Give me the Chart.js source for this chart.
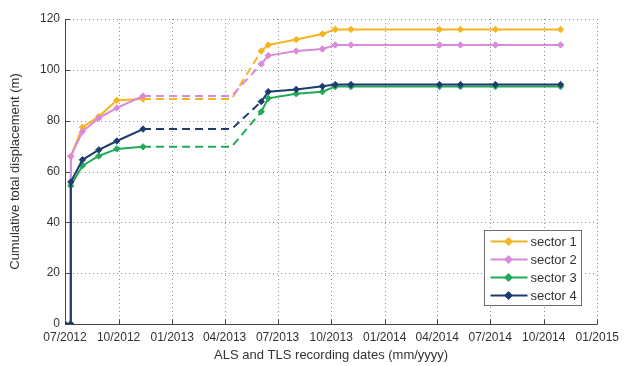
<!DOCTYPE html>
<html>
<head>
<meta charset="utf-8">
<script src="https://cdn.jsdelivr.net/npm/chart.js@4.4.1/dist/chart.umd.min.js"></script>
<style>
  html, body { margin: 0; padding: 0; background: #ffffff; }
  canvas { display: block; }
</style>
</head>
<body>
<canvas id="chart" width="625" height="366"></canvas>
<script>
// Survey dates (ALS / TLS campaigns); the 2013-04-13 entry only closes the
// gap between the autumn 2012 and summer 2013 surveys and carries no marker.
const recordingDates = [
  '2012-07-01', '2012-07-11', '2012-07-11', '2012-07-31', '2012-08-28',
  '2012-09-28', '2012-11-12', '2013-04-13', '2013-06-03', '2013-06-15',
  '2013-08-02', '2013-09-16', '2013-10-08', '2013-11-04', '2014-04-05',
  '2014-05-11', '2014-07-10', '2014-10-30'
];
const gapIndex = 7;

// Cumulative total displacement (m) per sector
const sector1 = [0, 0, 66.0, 77.4, 81.6, 88.0, 88.5, 88.5, 107.4, 109.8, 111.9, 114.1, 115.9, 115.9, 115.9, 115.9, 115.9, 115.9];
const sector2 = [0, 0, 66.0, 75.7, 81.0, 85.0, 89.7, 89.7, 102.3, 105.6, 107.4, 108.2, 109.8, 109.8, 109.8, 109.8, 109.8, 109.8];
const sector3 = [0, 0, 54.4, 62.3, 66.1, 68.9, 69.7, 69.7, 83.5, 88.8, 90.6, 91.4, 93.4, 93.4, 93.4, 93.4, 93.4, 93.4];
const sector4 = [0, 0, 55.9, 64.6, 68.5, 72.0, 76.7, 76.7, 87.5, 91.4, 92.3, 93.5, 94.2, 94.2, 94.2, 94.2, 94.2, 94.2];

const seriesNames = ['sector 1', 'sector 2', 'sector 3', 'sector 4'];
const seriesColors = ['#F7B422', '#DA8ADB', '#22A95A', '#1F3B70'];

const tickDates = [
  '2012-07-01', '2012-10-01', '2013-01-01', '2013-04-01', '2013-07-01', '2013-10-01',
  '2014-01-01', '2014-04-01', '2014-07-01', '2014-10-01', '2015-01-01'
];
const tickLabels = [
  '07/2012', '10/2012', '01/2013', '04/2013', '07/2013', '10/2013',
  '01/2014', '04/2014', '07/2014', '10/2014', '01/2015'
];

const originDate = '2012-07-01';
function toDays(s) {
  const [y, m, d] = s.split('-').map(Number);
  const [y0, m0, d0] = originDate.split('-').map(Number);
  return (Date.UTC(y, m - 1, d) - Date.UTC(y0, m0 - 1, d0)) / 86400000;
}

const xDays = recordingDates.map(toDays);
const tickDays = tickDates.map(toDays);

const TEXT = '#333333';
const FONT = '"Liberation Sans", Arial, sans-serif';

function makeDataset(name, values, color, order) {
  return {
    label: name,
    data: values.map((v, i) => ({ x: xDays[i], y: v })),
    borderColor: color,
    backgroundColor: color,
    borderWidth: 2,
    pointStyle: 'rectRot',
    pointRadius: values.map((v, i) => (i === gapIndex ? 0 : 3.2)),
    pointHoverRadius: 0,
    pointBorderWidth: 1,
    pointBorderColor: color,
    pointBackgroundColor: color,
    tension: 0,
    order: order,
    segment: {
      borderDash: ctx => (ctx.p0DataIndex === gapIndex - 1 || ctx.p0DataIndex === gapIndex) ? [8, 5] : []
    }
  };
}

// Dotted grid, solid left/bottom axes and inward tick marks
const frame = {
  id: 'frame',
  beforeDatasetsDraw(chart) {
    const { ctx, chartArea: a, scales: { x, y } } = chart;
    ctx.save();
    ctx.lineWidth = 1;
    ctx.strokeStyle = '#8f8f8f';
    ctx.setLineDash([1, 3]);
    x.ticks.forEach(t => {
      const px = Math.round(x.getPixelForValue(t.value)) + 0.5;
      if (px - a.left < 2) return;
      ctx.beginPath(); ctx.moveTo(px, a.top); ctx.lineTo(px, a.bottom); ctx.stroke();
    });
    y.ticks.forEach(t => {
      const py = Math.round(y.getPixelForValue(t.value)) + 0.5;
      if (a.bottom - py < 2) return;
      ctx.beginPath(); ctx.moveTo(a.left, py); ctx.lineTo(a.right, py); ctx.stroke();
    });
    ctx.setLineDash([]);
    ctx.strokeStyle = '#444444';
    const L = Math.round(a.left) + 0.5, B = Math.round(a.bottom) + 0.5;
    ctx.beginPath();
    ctx.moveTo(L, a.top); ctx.lineTo(L, B); ctx.lineTo(a.right, B);
    ctx.stroke();
    ctx.beginPath();
    x.ticks.forEach(t => {
      const px = Math.round(x.getPixelForValue(t.value)) + 0.5;
      ctx.moveTo(px, B); ctx.lineTo(px, B - 5);
    });
    y.ticks.forEach(t => {
      const py = Math.round(y.getPixelForValue(t.value)) + 0.5;
      ctx.moveTo(L, py); ctx.lineTo(L + 5, py);
    });
    ctx.stroke();
    ctx.restore();
  }
};

// Boxed legend with line + marker samples
const boxLegend = {
  id: 'boxLegend',
  afterDraw(chart) {
    const { ctx } = chart;
    const left = 484.5, top = 230.5, w = 97, h = 75;
    ctx.save();
    ctx.fillStyle = '#ffffff';
    ctx.fillRect(left, top, w, h);
    ctx.strokeStyle = '#6e6e6e';
    ctx.lineWidth = 1;
    ctx.strokeRect(left, top, w, h);
    ctx.font = '13px ' + FONT;
    ctx.textBaseline = 'middle';
    ctx.textAlign = 'left';
    seriesNames.forEach((name, i) => {
      const cy = top + 11 + i * 18;
      ctx.strokeStyle = seriesColors[i];
      ctx.lineWidth = 2;
      ctx.beginPath(); ctx.moveTo(left + 6, cy); ctx.lineTo(left + 43, cy); ctx.stroke();
      Chart.helpers.drawPoint(ctx, { pointStyle: 'rectRot', radius: 3, borderWidth: 1 }, left + 24, cy);
      ctx.fillStyle = seriesColors[i];
      ctx.beginPath();
      ctx.moveTo(left + 24, cy - 3.5); ctx.lineTo(left + 27.5, cy);
      ctx.lineTo(left + 24, cy + 3.5); ctx.lineTo(left + 20.5, cy);
      ctx.closePath(); ctx.fill();
      ctx.fillStyle = TEXT;
      ctx.fillText(name, left + 46, cy + 0.5);
    });
    ctx.restore();
  }
};

new Chart(document.getElementById('chart'), {
  type: 'line',
  data: {
    datasets: [
      makeDataset(seriesNames[0], sector1, seriesColors[0], 4),
      makeDataset(seriesNames[1], sector2, seriesColors[1], 3),
      makeDataset(seriesNames[2], sector3, seriesColors[2], 2),
      makeDataset(seriesNames[3], sector4, seriesColors[3], 1)
    ]
  },
  options: {
    responsive: false,
    animation: false,
    events: [],
    layout: { padding: { left: 0, top: 19, right: 23, bottom: 0 } },
    plugins: {
      legend: { display: false },
      tooltip: { enabled: false }
    },
    scales: {
      x: {
        type: 'linear',
        min: tickDays[0],
        max: tickDays[tickDays.length - 1],
        afterBuildTicks(scale) { scale.ticks = tickDays.map(v => ({ value: v })); },
        afterFit(scale) { scale.height = 42; },
        grid: { display: false, drawTicks: false },
        border: { display: false },
        ticks: {
          autoSkip: false,
          maxRotation: 0,
          minRotation: 0,
          padding: 6,
          color: TEXT,
          font: { family: FONT, size: 12 },
          callback: (v, i) => tickLabels[i]
        },
        title: {
          display: true,
          text: 'ALS and TLS recording dates (mm/yyyy)',
          color: TEXT,
          font: { family: FONT, size: 13 },
          padding: { top: 0, bottom: 3 }
        }
      },
      y: {
        min: 0,
        max: 120,
        afterFit(scale) { scale.width = 65; },
        grid: { display: false, drawTicks: false },
        border: { display: false },
        ticks: {
          stepSize: 20,
          padding: 5,
          color: TEXT,
          font: { family: FONT, size: 12 }
        },
        title: {
          display: true,
          text: 'Cumulative total displacement (m)',
          color: TEXT,
          font: { family: FONT, size: 13 },
          padding: { top: 8, bottom: 0 }
        }
      }
    }
  },
  plugins: [frame, boxLegend]
});
</script>
</body>
</html>
